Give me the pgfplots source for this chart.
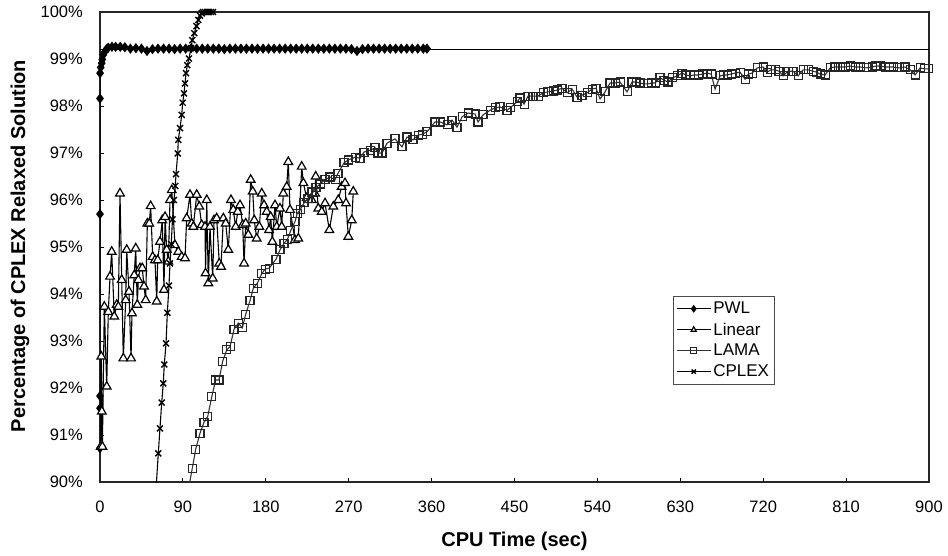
\documentclass[border=0pt]{standalone}
\usepackage{fontspec}
\setmainfont{Liberation Sans}
\usepackage{pgfplots}
\pgfplotsset{compat=1.18}

\begin{document}
\begin{tikzpicture}
\useasboundingbox (-100pt,-73pt) rectangle (848pt,482pt);
\begin{axis}[
  at={(0,0)}, anchor=south west,
  scale only axis, width=829pt, height=470pt,
  xmin=0, xmax=900, ymin=90, ymax=100,
  xtick={0,90,...,900},
  ytick={90,91,...,100},
  yticklabels={90\%,91\%,92\%,93\%,94\%,95\%,96\%,97\%,98\%,99\%,100\%},
  /pgf/number format/assume math mode=true,
  xtick pos=bottom, ytick pos=left,
  tick align=inside, major tick length=4pt,
  tick style={black, line width=0.8pt},
  axis line style={black!85, line width=1.1pt},
  tick label style={font=\fontsize{16.5}{19}\selectfont},
  yticklabel style={anchor=east, inner sep=0pt, xshift=-17pt},
  xticklabel style={anchor=north, inner sep=0pt, yshift=-19pt},
  xlabel={CPU Time (sec)},
  ylabel={Percentage of CPLEX Relaxed Solution},
  every axis x label/.style={at={(axis description cs:0.5,-0.1255)}, anchor=center,
    font=\fontsize{20}{24}\selectfont\bfseries},
  every axis y label/.style={at={(axis description cs:-0.0965,0.502)}, anchor=center,
    rotate=90, font=\fontsize{20}{24}\selectfont\bfseries},
  clip mode=individual,
  legend style={at={(0.691,0.396)}, anchor=north west, draw=black!70, line width=0.6pt,
    font=\fontsize{17}{20}\selectfont, row sep=3.5pt, inner xsep=3pt, inner ysep=4pt},
  legend cell align=left,
  legend image code/.code={\draw[mark repeat=2,mark phase=2,mark size=3pt] plot coordinates {(0pt,0pt) (17pt,0pt) (34pt,0pt)};},
]

% reference level
\addplot[black, line width=1pt, forget plot] coordinates {(0,99.21) (905,99.21)};

% lines that run below 90%
\addplot[black, line width=1.1pt, forget plot] coordinates {(60.5,89.75) (63.3,90.61)};
\addplot[black!80, line width=1.1pt, forget plot] coordinates {(95.5,89.8) (100.2,90.29)};

\addplot[black, line width=1.2pt, mark=diamond*, mark size=4.2pt, mark options={solid, fill=black}] coordinates {
(0,90.72) (0,91.57) (0,91.83) (0,95.70) (0,98.16) (0.1,98.70) (0.8,98.82) (1.8,98.91) (2.5,98.99) (3.6,99.09) (5.4,99.16) (7,99.21) (9,99.24) (13,99.26) (17,99.26) (22,99.26) (27,99.25) (33,99.22) (39,99.23) (45,99.22) (51,99.17) (57,99.21) (63,99.22) (69,99.22) (75,99.22) (81,99.21) (87,99.22) (93,99.22) (99,99.23) (105,99.22) (111,99.22) (117,99.22) (123,99.22) (129,99.22) (135,99.21) (141,99.22) (147,99.22) (153,99.22) (159,99.22) (165,99.22) (171,99.22) (177,99.22) (183,99.22) (189,99.22) (195,99.22) (201,99.22) (207,99.22) (213,99.22) (219,99.22) (225,99.22) (231,99.22) (237,99.22) (243,99.22) (249,99.22) (255,99.22) (261,99.22) (267,99.22) (273,99.21) (279,99.17) (285,99.21) (291,99.22) (297,99.22) (303,99.22) (309,99.22) (315,99.22) (321,99.22) (327,99.22) (333,99.22) (339,99.22) (345,99.22) (351,99.22) (355,99.22)
};
\addlegendentry{PWL}

\addplot[black, line width=1.1pt, mark=triangle*, mark size=5pt, mark options={solid, fill=white, draw=black, line width=1.2pt}] coordinates {
(0.8,90.75) (1.4,92.67) (2.0,91.50) (2.6,90.75) (4.7,93.73) (7.3,92.03) (9.0,93.62) (10.9,94.37) (12.7,94.90) (15.5,93.52) (18.1,93.77) (19.9,93.73) (21.7,96.14) (23.6,94.30) (25.3,92.63) (27.9,93.87) (29.0,94.94) (31.5,94.05) (33.7,92.63) (34.7,93.59) (37.2,94.40) (38.8,94.97) (40.5,93.77) (41.6,94.30) (43.4,94.55) (45.9,94.55) (47.8,94.16) (49.6,93.87) (51.4,95.50) (53.5,95.50) (55.0,95.87) (57.2,94.79) (59.7,94.72) (61.6,93.84) (62.6,94.72) (65.1,95.11) (67.6,95.57) (69.5,94.09) (70.6,95.64) (72.4,94.94) (74.2,94.69) (76.0,96.00) (77.9,96.21) (81.4,95.04) (85.0,94.90) (88.7,94.79) (92.3,94.76) (94.1,95.61) (97.7,96.11) (99.6,95.50) (101.3,95.43) (105.0,96.11) (107.8,95.86) (110.4,95.47) (114.0,95.43) (114.6,94.44) (115.9,96.00) (117.6,94.23) (119.4,95.43) (122.4,94.33) (123.8,95.57) (126.7,95.61) (129.5,94.65) (131.4,94.58) (133.9,95.61) (136.5,95.50) (139.3,94.94) (142.2,96.00) (144.7,95.79) (147.3,95.43) (149.5,95.75) (152.0,95.89) (154.9,95.47) (156.4,94.65) (158.2,95.50) (161.0,95.26) (163.6,96.43) (165.8,96.18) (167.5,95.57) (170.1,95.18) (173.0,95.43) (175.6,96.14) (178.1,95.89) (181.0,95.75) (183.5,95.36) (185.3,95.64) (187.1,95.11) (190.0,95.89) (191.9,95.43) (195.4,95.82) (197.3,95.43) (199.0,96.14) (202.7,96.28) (204.4,96.81) (206.3,95.79) (211.7,95.15) (215.3,95.18) (219.0,96.71) (220.8,96.36) (224.4,96.04) (229.9,96.00) (233.4,96.14) (234.2,96.50) (237.0,95.82) (240.7,95.75) (244.3,95.93) (249.0,95.36) (253.3,95.86) (258.7,96.00) (262.3,96.28) (266.0,96.36) (267.1,95.93) (269.6,95.22) (273.3,95.57) (275.0,96.18)
};
\addlegendentry{Linear}

\addplot[black!80, line width=1.1pt, mark=square, mark size=4pt, mark options={solid, draw=black!85, line width=1.1pt}] coordinates {
(100.2,90.29) (103.9,90.70) (108.6,91.04) (112.9,91.27) (116.9,91.39) (121.3,91.81) (125.6,92.17) (129.2,92.17) (133.2,92.57) (137.6,92.81) (141.2,92.88) (145.5,93.25) (150.2,93.38) (154.5,93.28) (158.2,93.57) (162.9,93.86) (166.4,94.12) (170.8,94.23) (175.6,94.43) (179.2,94.53) (183.8,94.55) (191.1,94.74) (195.4,94.94) (199.8,95.08) (203.4,95.16) (207.1,95.35) (211.7,95.54) (214.2,95.72) (217.2,95.79) (221.5,95.94) (225.8,96.04) (230.2,96.17) (234.5,96.26) (238.9,96.34) (244.3,96.43) (249.7,96.49) (255.2,96.43) (258.4,96.57) (264.9,96.79) (269.3,96.85) (276.9,96.91) (282.3,96.89) (286.6,97.02) (293.2,97.06) (298.6,97.11) (301.8,97.00) (306.2,97.00) (311.6,97.21) (320.3,97.30) (327.9,97.13) (333.3,97.34) (339.8,97.28) (345.3,97.38) (350,97.40) (355.0,97.45) (363.7,97.66) (369.2,97.66) (376.8,97.60) (382.2,97.70) (387.6,97.55) (393.1,97.77) (399.6,97.85) (407.2,97.83) (410.4,97.66) (415.8,97.81) (423.5,97.91) (428.9,97.96) (434.3,97.98) (441.9,97.91) (445.2,97.96) (452.8,98.09) (456.0,98.17) (460.4,98.04) (464.7,98.21) (470.1,98.21) (475.6,98.21) (481.0,98.28) (486.4,98.30) (491.9,98.32) (496.5,98.34) (501.6,98.38) (507.1,98.28) (512.5,98.36) (517.9,98.19) (523.3,98.23) (528.8,98.28) (534.2,98.36) (538.5,98.38) (542.9,98.15) (548.3,98.30) (553.7,98.49) (559.2,98.49) (564.6,98.51) (572.2,98.30) (577.6,98.51) (582,98.51) (586.3,98.49) (590.5,98.47) (595.0,98.47) (598.8,98.49) (602.6,98.49) (608.0,98.60) (612.3,98.55) (616.7,98.51) (621.5,98.60) (626.5,98.64) (631.9,98.70) (636.2,98.66) (640.6,98.64) (645,98.66) (649.3,98.66) (654.2,98.68) (659.1,98.70) (663.5,98.68) (667.8,98.36) (673.2,98.64) (677,98.66) (680.8,98.66) (685.2,98.68) (689.5,98.70) (694.9,98.72) (700.3,98.57) (704,98.68) (707.9,98.70) (713.4,98.81) (719.9,98.83) (724.2,98.72) (728.5,98.77) (732.9,98.77) (737.2,98.74) (741.6,98.64) (747.0,98.74) (752.4,98.74) (757.9,98.64) (763.3,98.77) (768.7,98.77) (774.2,98.74) (778,98.72) (781.8,98.68) (787.2,98.66) (792.6,98.81) (798,98.83) (803.5,98.83) (809,98.83) (814.3,98.85) (820,98.83) (825.2,98.83) (831.7,98.81) (838.2,98.83) (842.5,98.85) (846.9,98.85) (852.4,98.83) (857,98.83) (861.0,98.83) (867.5,98.81) (874.0,98.83) (879.5,98.77) (884.9,98.66) (890.3,98.81) (895,98.79) (899.5,98.79)
};
\addlegendentry{LAMA}

\addplot[black, line width=1.1pt, mark=x, mark size=4.2pt, mark options={solid, line width=1.4pt}] coordinates {
(63.3,90.61) (65.1,91.14) (67.0,91.69) (68.7,92.10) (69.8,92.50) (71.7,92.95) (73.1,93.60) (74.9,94.18) (76.0,94.65) (77.3,95.06) (78.7,95.59) (80.3,96.00) (81.8,96.30) (82.5,96.55) (84.4,96.99) (85.0,97.28) (86.9,97.53) (88.7,97.81) (89.8,98.07) (91.2,98.27) (92.3,98.48) (93.4,98.70) (94.8,98.87) (96.6,99.01) (98.8,99.23) (100.2,99.40) (102.4,99.55) (104.8,99.70) (106.7,99.83) (108.6,99.92) (110.4,99.97) (111.8,100) (114.0,100) (116.2,100) (118.3,100) (120.5,100) (122.7,100)
};
\addlegendentry{CPLEX}

\end{axis}
\end{tikzpicture}
\end{document}
